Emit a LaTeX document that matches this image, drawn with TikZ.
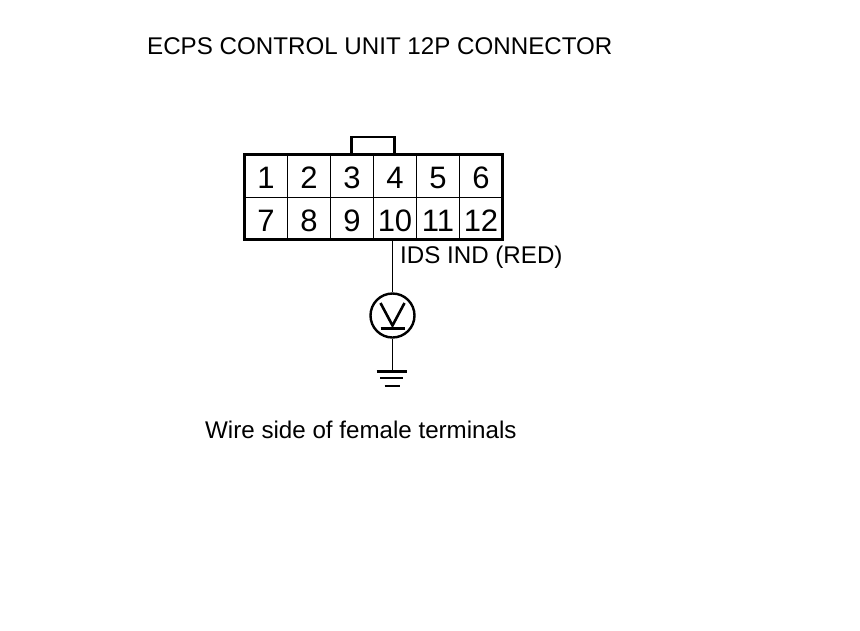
\documentclass[tikz,border=0pt]{standalone}
\usepackage{fontspec}
\setmainfont{Liberation Sans}

\tikzset{
    pin/.style={draw=black, line width=1.2pt, minimum width=43pt, minimum height=42.5pt, inner sep=0pt, outer sep=0pt, text height=25pt, text depth=0pt, font=\fontsize{31}{33}\selectfont},
    caption/.style={inner sep=0pt, anchor=west, font=\fontsize{24.15}{28}\selectfont},
    wire/.style={draw=black, line width=1.4pt}
}

\begin{document}
\begin{tikzpicture}[x=1pt, y=-1pt]
            \useasboundingbox (0,0) rectangle (860,630);

            %Upper row
            \node[pin] (pin1) at (266,176) {1};
            \node[pin] (pin2) at (309,176) {2};
            \node[pin] (pin3) at (352,176) {3};
            \node[pin] (pin4) at (395,176) {4};
            \node[pin] (pin5) at (438,176) {5};
            \node[pin] (pin6) at (481,176) {6};

            %Lower row
            \node[pin] (pin7) at (266,218.5) {7};
            \node[pin] (pin8) at (309,218.5) {8};
            \node[pin] (pin9) at (352,218.5) {9};
            \node[pin] (pin10) at (395,218.5) {10};
            \node[pin] (pin11) at (438,218.5) {11};
            \node[pin] (pin12) at (481,218.5) {12};

            %Housing and lock tab
            \draw[line width=3pt] (pin1.north west) rectangle (pin12.south east);
            \draw[line width=2.8pt] (351.5,154.5) -- (351.5,137) -- (394.5,137) -- (394.5,154.5);

            %Labels
            \node[caption] (title) at (147,46) {ECPS CONTROL UNIT 12P CONNECTOR};
            \node[caption] (idsind) at (400,257) {IDS IND (RED)};
            \node[caption] (wireside) at (205,430) {Wire side of female terminals};

            %Voltmeter
            \node[draw=black, line width=2.4pt, circle, minimum size=44pt, inner sep=0pt] (meter) at (392.5,315.5) {};
            \draw[line width=2.6pt] (380.5,303) -- (392.5,325.5) -- (404.5,303);
            \draw[line width=3pt] (380.5,328) -- (404.5,328);

            %Ground
            \coordinate (gnd) at (392.5,371);
            \coordinate (tap) at (392.5,240);
            \draw[wire] (tap) -- (meter);
            \draw[wire] (meter) -- (gnd);
            \draw[line width=3pt] (376.5,371) -- (407,371);
            \draw[line width=2pt] (380,378) -- (403,378);
            \draw[line width=2pt] (384.5,385.5) -- (399.5,385.5);
\end{tikzpicture}
\end{document}
